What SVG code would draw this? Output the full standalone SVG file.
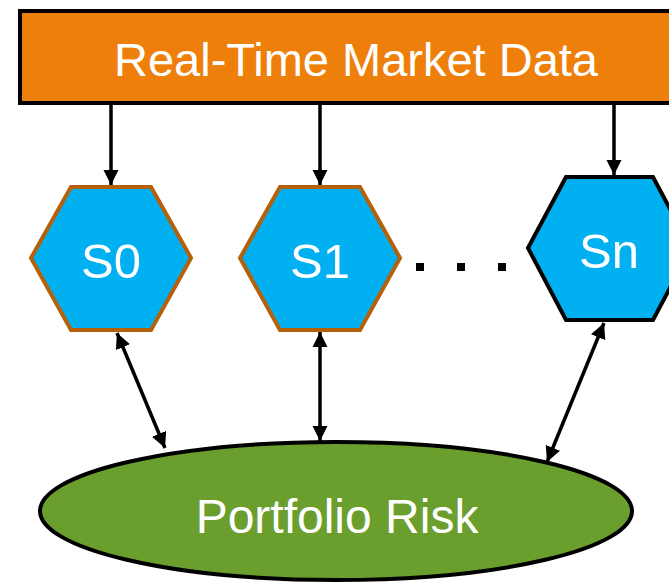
<svg xmlns="http://www.w3.org/2000/svg" width="669" height="586" viewBox="0 0 669 586">
<style>
.lbl{font-family:"Liberation Sans",Arial,sans-serif;fill:#fff;text-anchor:middle}
.hex{fill:#00B0F0;stroke:#B5600A;stroke-width:4;stroke-linejoin:miter}
.conn{stroke:#000;stroke-width:3.5;fill:none}
</style>
<defs>
<marker id="ah" viewBox="0 0 10 10" refX="10" refY="5" markerWidth="4.4" markerHeight="4.4" orient="auto-start-reverse" markerUnits="strokeWidth">
<path d="M0,0 L10,5 L0,10 z" fill="#000"/>
</marker>
</defs>
<g id="market">
<rect x="20" y="11" width="660" height="92" fill="#EF7F0B" stroke="#000" stroke-width="4"/>
<text class="lbl" x="356" y="76" font-size="47">Real-Time Market Data</text>
</g>
<g id="s0">
<polygon class="hex" points="31,258 71,187 151,187 191,258 151,330 71,330"/>
<text class="lbl" x="111" y="278" font-size="49">S0</text>
</g>
<g id="s1">
<polygon class="hex" points="240,258 280,187 360,187 400,258 360,330 280,330"/>
<text class="lbl" x="320" y="278" font-size="49">S1</text>
</g>
<g id="dots">
<rect x="416" y="263" width="8" height="8" fill="#000"/>
<rect x="457" y="263" width="8" height="8" fill="#000"/>
<rect x="498" y="263" width="8" height="8" fill="#000"/>
</g>
<g id="sn">
<polygon points="528,248 566,177 653,177 691,248 653,320 566,320" fill="#00B0F0" stroke="#000" stroke-width="4"/>
<text class="lbl" x="609" y="268" font-size="49">Sn</text>
</g>
<g id="risk">
<ellipse cx="336" cy="511" rx="296" ry="69" fill="#6A9F2E" stroke="#000" stroke-width="4"/>
<text class="lbl" x="337" y="533" font-size="48">Portfolio Risk</text>
</g>
<g id="connectors">
<line class="conn" x1="111" y1="105" x2="111" y2="185" marker-end="url(#ah)"/>
<line class="conn" x1="320" y1="105" x2="320" y2="185" marker-end="url(#ah)"/>
<line class="conn" x1="614" y1="105" x2="614" y2="175" marker-end="url(#ah)"/>
<line class="conn" x1="117" y1="333" x2="165" y2="448" marker-start="url(#ah)" marker-end="url(#ah)"/>
<line class="conn" x1="320" y1="332" x2="320" y2="441" marker-start="url(#ah)" marker-end="url(#ah)"/>
<line class="conn" x1="604" y1="323" x2="547" y2="462" marker-start="url(#ah)" marker-end="url(#ah)"/>
</g>
</svg>
